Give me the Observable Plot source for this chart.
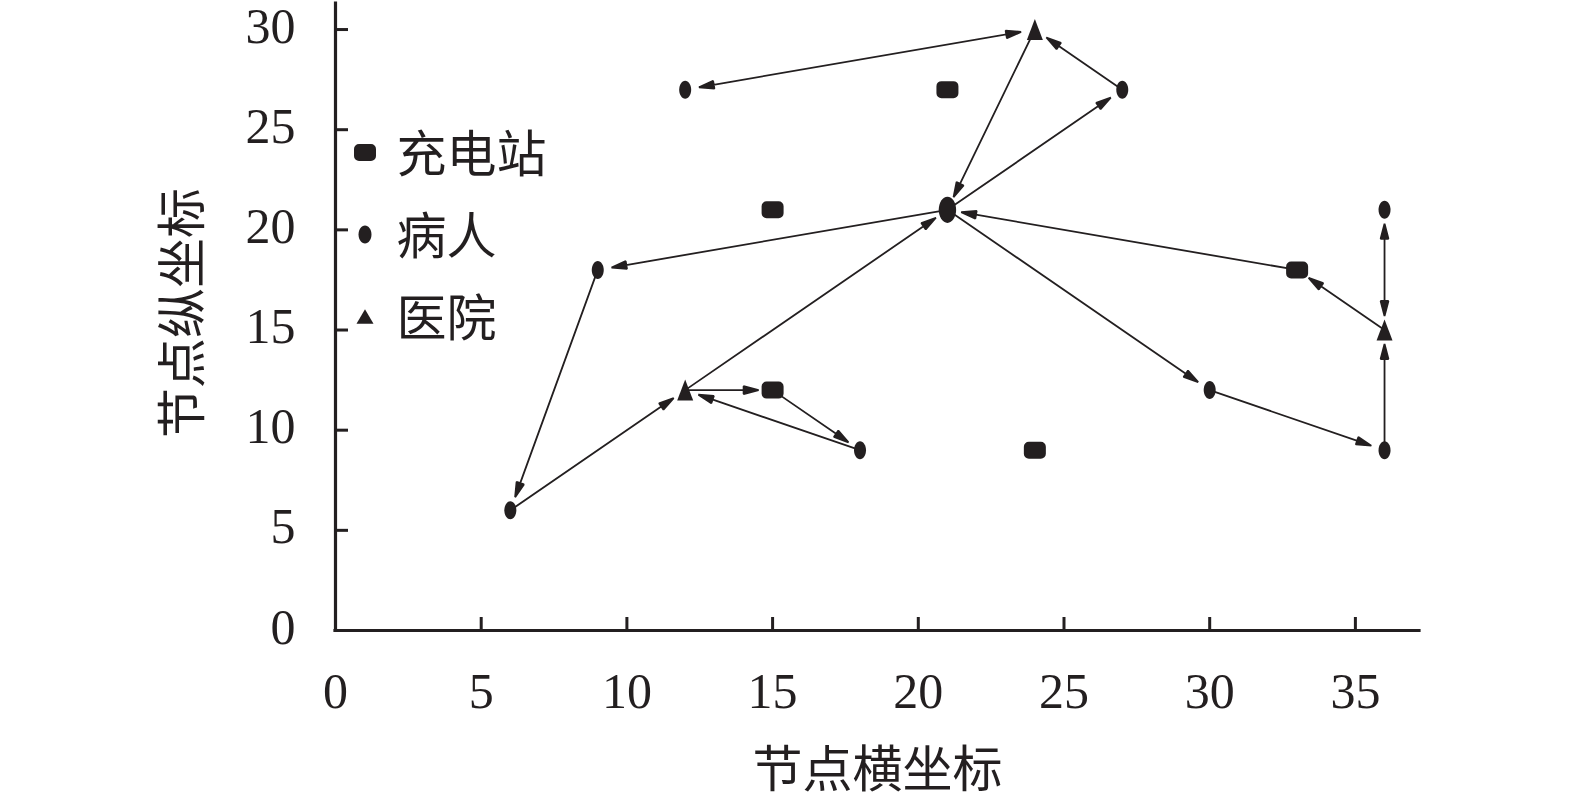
<!DOCTYPE html>
<html>
<head>
<meta charset="utf-8">
<script src="https://cdn.jsdelivr.net/npm/d3@7"></script>
<script src="https://cdn.jsdelivr.net/npm/@observablehq/plot@0.6"></script>
<style>
  html, body { margin: 0; padding: 0; background: #fff; }
  #chart svg { display: block; }
</style>
</head>
<body>
<div id="chart"></div>
<script>
// ---- data ----
const stations  = [[21, 27], [15, 21], [33, 18], [15, 12], [24, 9]];          // 充电站
const patients  = [[12, 27], [27, 27], [9, 18], [36, 21], [30, 12], [18, 9], [36, 9], [6, 6]]; // 病人
const depot     = [[21, 21]];                                                 // larger patient node
const hospitals = [[24, 30], [36, 15], [12, 12]];                             // 医院

const singleArrows = [
  [[27, 27], [24, 30]],
  [[24, 30], [21, 21]],
  [[21, 21], [27, 27]],
  [[21, 21], [9, 18]],
  [[33, 18], [21, 21]],
  [[36, 15], [33, 18]],
  [[36, 9], [36, 15]],
  [[30, 12], [36, 9]],
  [[21, 21], [30, 12]],
  [[9, 18], [6, 6]],
  [[6, 6], [12, 12]],
  [[12, 12], [21, 21]],
  [[12, 12], [15, 12]],
  [[15, 12], [18, 9]],
  [[18, 9], [12, 12]]
];
const doubleArrows = [
  [[24, 30], [12, 27]],
  [[36, 15], [36, 21]]
];

const xTicks = [0, 5, 10, 15, 20, 25, 30, 35];
const yTicks = [0, 5, 10, 15, 20, 25, 30];
const legendLabels = ["充电站", "病人", "医院"];
const xTitle = "节点横坐标";
const yTitle = "节点纵坐标";

// ---- styling ----
const ink = "#231f20";
const serif = "'Liberation Serif', 'Times New Roman', serif";
const cjk = "'Noto Sans CJK SC', 'Noto Sans', sans-serif";

// custom symbols (size = pi r^2)
const rOf = (size) => Math.sqrt(size / Math.PI);
const roundRect = {
  draw(ctx, size) {
    const r = rOf(size), w = 2.2 * r, h = 1.7 * r, c = 0.5 * r;
    const x0 = -w / 2, y0 = -h / 2, x1 = w / 2, y1 = h / 2;
    ctx.moveTo(x0 + c, y0);
    ctx.arcTo(x1, y0, x1, y1, c);
    ctx.arcTo(x1, y1, x0, y1, c);
    ctx.arcTo(x0, y1, x0, y0, c);
    ctx.arcTo(x0, y0, x1, y0, c);
    ctx.closePath();
  }
};
function ellipseSymbol(kw, kh) {
  return {
    draw(ctx, size) {
      const r = rOf(size), a = kw * r, b = kh * r, k = 0.5523;
      ctx.moveTo(a, 0);
      ctx.bezierCurveTo(a, k * b, k * a, b, 0, b);
      ctx.bezierCurveTo(-k * a, b, -a, k * b, -a, 0);
      ctx.bezierCurveTo(-a, -k * b, -k * a, -b, 0, -b);
      ctx.bezierCurveTo(k * a, -b, a, -k * b, a, 0);
      ctx.closePath();
    }
  };
}
function triangleSymbol(kw, kh) {
  return {
    draw(ctx, size) {
      const r = rOf(size), w = kw * r, h = kh * r;
      ctx.moveTo(0, -h / 2);
      ctx.lineTo(w / 2, h / 2);
      ctx.lineTo(-w / 2, h / 2);
      ctx.closePath();
    }
  };
}
const patientSym = ellipseSymbol(0.6, 0.9);
const hospitalSym = triangleSymbol(1.6, 2.1);
const legendSymbols = [roundRect, ellipseSymbol(0.65, 0.9), triangleSymbol(1.7, 1.45)];

// custom curve: straight shaft with pixel insets and filled arrowheads
function arrowCurve(insetStart, insetEnd, headAtStart) {
  const HL = 15, HW = 3.9;
  return (ctx) => {
    let pts = [];
    function head(tx, ty, ux, uy) {
      const bx = tx - ux * HL, by = ty - uy * HL;
      ctx.moveTo(tx, ty);
      ctx.lineTo(bx - uy * HW, by + ux * HW);
      ctx.lineTo(bx + uy * HW, by - ux * HW);
      ctx.closePath();
    }
    return {
      areaStart() {}, areaEnd() {},
      lineStart() { pts = []; },
      point(x, y) { pts.push([+x, +y]); },
      lineEnd() {
        if (pts.length < 2) return;
        const [x1, y1] = pts[0], [x2, y2] = pts[pts.length - 1];
        const L = Math.hypot(x2 - x1, y2 - y1) || 1;
        const ux = (x2 - x1) / L, uy = (y2 - y1) / L;
        const sx = x1 + ux * insetStart, sy = y1 + uy * insetStart;
        const ex = x2 - ux * insetEnd, ey = y2 - uy * insetEnd;
        ctx.moveTo(sx, sy);
        ctx.lineTo(ex, ey);
        head(ex, ey, ux, uy);
        if (headAtStart) head(sx, sy, -ux, -uy);
      }
    };
  };
}

const linkOpts = {
  x1: (d) => d[0][0], y1: (d) => d[0][1],
  x2: (d) => d[1][0], y2: (d) => d[1][1],
  stroke: ink, fill: ink, strokeWidth: 1.8, strokeLinejoin: "miter"
};

const legendMarks = legendLabels.flatMap((label, i) => [
  Plot.dot([label], {
    frameAnchor: "top-left", dx: 29.5, dy: 149 + i * 82,
    symbol: legendSymbols[i], r: 10, fill: ink, stroke: "none"
  }),
  Plot.text([label], {
    text: (d) => d, frameAnchor: "top-left", dx: 61, dy: 152 + i * 82,
    textAnchor: "start", lineAnchor: "middle",
    fontSize: 50, fontFamily: cjk, fill: ink
  })
]);

const chart = Plot.plot({
  width: 1575,
  height: 799,
  marginLeft: 335,
  marginRight: 156,
  marginTop: 3,
  marginBottom: 169,
  style: { background: "#fff", color: ink, fontFamily: serif, overflow: "visible" },
  x: { domain: [0, 37.2] },
  y: { domain: [0, 31.3] },
  marks: [
    // axis lines
    Plot.ruleX([0], { stroke: ink, strokeWidth: 3.2, strokeLinecap: "square" }),
    Plot.ruleY([0], { stroke: ink, strokeWidth: 3.2, strokeLinecap: "square" }),
    // inward ticks
    Plot.axisY(yTicks.filter((t) => t > 0), {
      tickSize: 13, dx: 13, strokeWidth: 3, stroke: ink, fill: "none", label: null
    }),
    Plot.axisX(xTicks.filter((t) => t > 0), {
      tickSize: 13, dy: -13, strokeWidth: 3, stroke: ink, fill: "none", label: null
    }),
    // tick labels
    Plot.axisY(yTicks, {
      tickSize: 0, tickPadding: 40, fontSize: 50, fontFamily: serif, fill: ink, label: null, dy: -3
    }),
    Plot.axisX(xTicks, {
      tickSize: 0, tickPadding: 42, fontSize: 50, fontFamily: serif, fill: ink, label: null
    }),
    // axis titles
    Plot.text([xTitle], {
      text: (d) => d, frameAnchor: "bottom", dy: 140, lineAnchor: "middle",
      fontSize: 50, fontFamily: cjk, fill: ink
    }),
    Plot.text([yTitle], {
      text: (d) => d, frameAnchor: "left", dx: -152, dy: -4, rotate: -90,
      textAnchor: "middle", lineAnchor: "middle",
      fontSize: 50, fontFamily: cjk, fill: ink
    }),
    // arrows
    Plot.link(singleArrows, { ...linkOpts, curve: arrowCurve(0, 14, false) }),
    Plot.link(doubleArrows, { ...linkOpts, curve: arrowCurve(14, 14, true) }),
    // nodes
    Plot.dot(stations, { x: (d) => d[0], y: (d) => d[1], symbol: roundRect, r: 10, fill: ink, stroke: "none" }),
    Plot.dot(patients, { x: (d) => d[0], y: (d) => d[1], symbol: patientSym, r: 10, fill: ink, stroke: "none" }),
    Plot.dot(depot, { x: (d) => d[0], y: (d) => d[1], symbol: patientSym, r: 14.5, fill: ink, stroke: "none" }),
    Plot.dot(hospitals, { x: (d) => d[0], y: (d) => d[1], symbol: hospitalSym, r: 10, fill: ink, stroke: "none" }),
    // legend
    ...legendMarks
  ]
});

document.getElementById("chart").append(chart);
</script>
</body>
</html>
